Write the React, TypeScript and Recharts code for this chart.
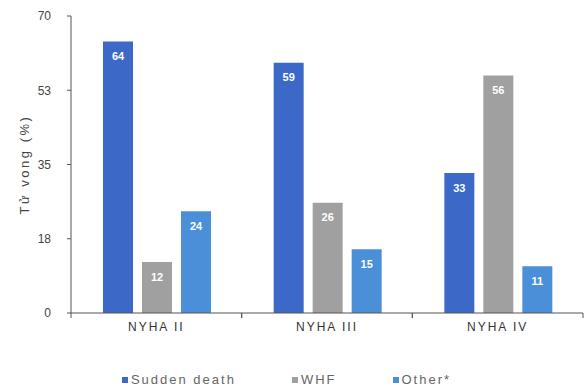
import { BarChart, Bar, XAxis, YAxis, Legend, LabelList, Label } from 'recharts';

const categories = ['NYHA II', 'NYHA III', 'NYHA IV'];
const suddenDeath = [64, 59, 33];
const whf = [12, 26, 56];
const other = [24, 15, 11];

const yTicks = [0, 17.5, 35, 52.5, 70];
const yTickLabels = ['0', '18', '35', '53', '70'];

const series = [
  { key: 'sudden', name: 'Sudden death', color: '#3c68c8' },
  { key: 'whf', name: 'WHF', color: '#a0a0a0' },
  { key: 'other', name: 'Other*', color: '#4a8fd8' },
];

const FONT = '"Liberation Sans", Arial, sans-serif';
const AXIS = '#555';

// x tick: category name plus small marks at both band edges
function CategoryTick(props: any) {
  const { x, y, payload } = props;
  const half = payload.offset || 0;
  return (
    <g>
      <line x1={x - half} x2={x - half} y1={y} y2={y + 5} stroke={AXIS} />
      <line x1={x + half} x2={x + half} y1={y} y2={y + 5} stroke={AXIS} />
      <text x={x} y={y + 18} textAnchor="middle" fontSize={12} fill="#333" style={{ letterSpacing: 2 }} fontFamily={FONT}>
        {payload.value}
      </text>
    </g>
  );
}

function YTitle(props: any) {
  const { viewBox } = props;
  const cx = viewBox.x + 24;
  const cy = viewBox.y + viewBox.height / 2;
  return (
    <text
      x={cx}
      y={cy}
      transform={`rotate(-90 ${cx} ${cy})`}
      textAnchor="middle"
      dominantBaseline="central"
      fontSize={13}
      fill="#444"
      fontFamily={FONT}
      style={{ letterSpacing: 2.5 }}
    >
      Tử vong (%)
    </text>
  );
}

function LegendRow() {
  return (
    <div
      style={{
        height: 40,
        paddingTop: 20,
        paddingRight: 10,
        boxSizing: 'border-box',
        display: 'flex',
        justifyContent: 'center',
        gap: 56,
        fontFamily: FONT,
        fontSize: 13,
        lineHeight: '16px',
        color: '#666',
        letterSpacing: 2,
      }}
    >
      {series.map((s) => (
        <div key={s.key} style={{ display: 'flex', alignItems: 'center' }}>
          <span style={{ width: 6, height: 6, background: s.color, marginRight: 3, display: 'inline-block' }} />
          <span>{s.name}</span>
        </div>
      ))}
    </div>
  );
}

export default function App() {
  const data = categories.map((name, i) => ({
    name,
    sudden: suddenDeath[i],
    whf: whf[i],
    other: other[i],
  }));

  return (
    <div style={{ position: 'absolute', left: 0, top: 0, background: '#fff' }}>
      <BarChart
        width={584}
        height={390}
        data={data}
        margin={{ top: 16, right: 1, bottom: 0, left: 0 }}
        barCategoryGap={32}
        barGap={9}
      >
        <XAxis
          dataKey="name"
          stroke={AXIS}
          tickLine={false}
          tickSize={0}
          tickMargin={0}
          height={37}
          tick={<CategoryTick />}
        />
        <YAxis
          width={71}
          domain={[0, 70]}
          ticks={yTicks}
          interval={0}
          stroke={AXIS}
          tickSize={4}
          tickMargin={16}
          tick={{ fill: '#444', fontSize: 12, fontFamily: FONT }}
          tickFormatter={(v: number) => yTickLabels[yTicks.indexOf(v)]}
        >
          <Label content={<YTitle />} />
        </YAxis>
        <Legend verticalAlign="bottom" content={<LegendRow />} />
        {series.map((s) => (
          <Bar key={s.key} dataKey={s.key} name={s.name} fill={s.color} isAnimationActive={false}>
            <LabelList
              dataKey={s.key}
              position="insideTop"
              offset={11}
              fill="#fff"
              fontSize={11}
              fontWeight="bold"
              fontFamily={FONT}
            />
          </Bar>
        ))}
      </BarChart>
    </div>
  );
}
